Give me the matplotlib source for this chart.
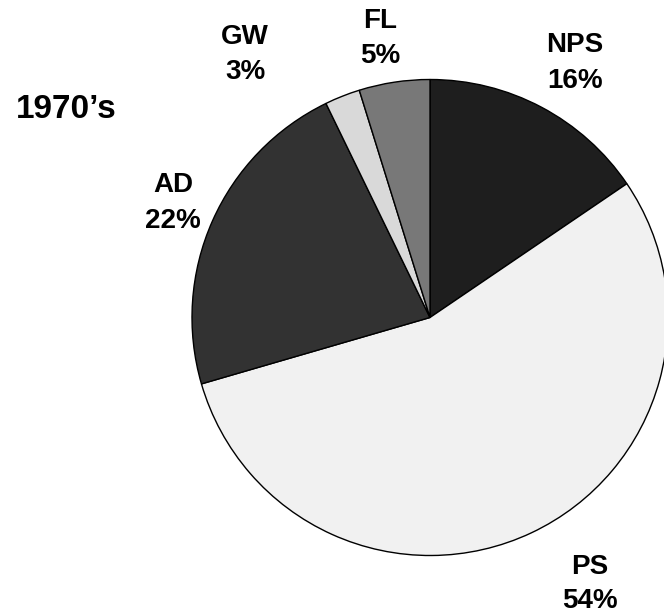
import matplotlib
matplotlib.use("Agg")
import matplotlib.pyplot as plt

categories = ["NPS", "PS", "AD", "GW", "FL"]
values = [15.5, 55.0, 22.3, 2.4, 4.8]
pct_labels = ["16%", "54%", "22%", "3%", "5%"]
colors = ["#1e1e1e", "#f1f1f1", "#323232", "#d9d9d9", "#787878"]
title = "1970\u2019s"

W, H = 664, 613
fig = plt.figure(figsize=(W / 100, H / 100), dpi=100)
ax = fig.add_axes([0, 0, 1, 1])

ax.pie(values, colors=colors, startangle=90, counterclock=False,
       center=(430, H - 317.5), radius=238,
       wedgeprops=dict(edgecolor="black", linewidth=1.0))
ax.set_xlim(0, W)
ax.set_ylim(0, H)
ax.set_aspect("equal")
ax.axis("off")

fp = dict(family=["Liberation Sans", "DejaVu Sans"], fontweight="bold",
          fontsize=20, ha="center", va="baseline")

# (x centre, baseline of name, baseline of percentage) in pixels from top
label_pos = {"NPS": (575, 52, 88), "PS": (590, 574, 608),
             "AD": (173, 192, 228), "GW": (245, 44, 79),
             "FL": (380, 28, 63)}
for c, p in zip(categories, pct_labels):
    x, y1, y2 = label_pos[c]
    ax.text(x, H - y1, c, **fp)
    ax.text(x, H - y2, p, **fp)

ax.text(66, H - 118, title, **{**fp, "fontsize": 24})

fig.savefig("out.png", dpi=100)
